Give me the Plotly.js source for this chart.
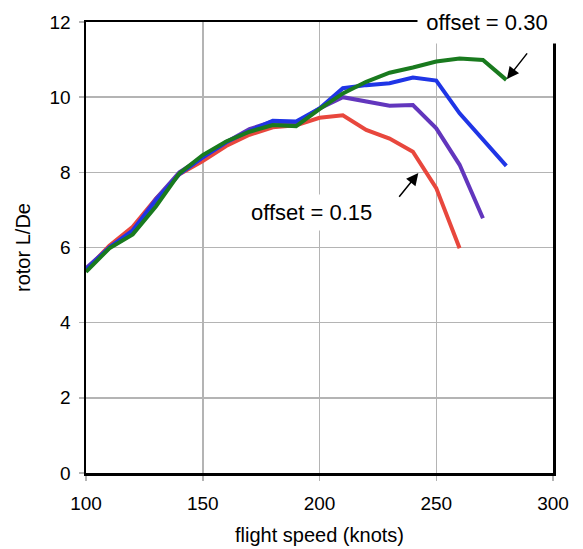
<!DOCTYPE html>
<html><head><meta charset="utf-8">
<script src="https://cdn.plot.ly/plotly-3.0.1.min.js"></script>
<style>html,body{margin:0;padding:0;background:#fff}#chart{width:583px;height:549px}</style>
</head><body><div id="chart"></div>
<script>
const speedA = [100,110,120,130,140,150,160,170,180,190,200,210,220,230,240,250,260];
const offset015 = [5.4,6.05,6.55,7.3,7.95,8.3,8.7,9.0,9.2,9.25,9.45,9.52,9.13,8.9,8.55,7.58,5.98];
const speedB = [100,110,120,130,140,150,160,170,180,190,200,210,220,230,240,250,260,270];
const offsetMid = [5.45,6.0,6.45,7.3,8.0,8.4,8.8,9.15,9.35,9.3,9.7,10.0,9.88,9.77,9.79,9.17,8.2,6.78];
const speedC = [100,110,120,130,140,150,160,170,180,190,200,210,220,230,240,250,260,270,280];
const offsetHigh = [5.4,6.0,6.45,7.25,7.95,8.4,8.8,9.1,9.37,9.35,9.7,10.24,10.32,10.37,10.52,10.44,9.57,8.86,8.17];
const offset030 = [5.35,5.98,6.35,7.1,7.97,8.46,8.82,9.08,9.26,9.23,9.68,10.1,10.41,10.65,10.79,10.95,11.03,10.99,10.46];
const xTicks = [100,150,200,250,300];
const yTicks = [0,2,4,6,8,10,12];

const fam = 'Liberation Sans, Arial, sans-serif';
const tickFont = {family: fam, size: 19, color: '#000'};
const titleFont = {family: fam, size: 20, color: '#000'};
const noteFont = {family: fam, size: 22, color: '#000'};
const traces = [
  {x: speedA, y: offset015, color: '#e8473d'},
  {x: speedB, y: offsetMid, color: '#6236bd'},
  {x: speedC, y: offsetHigh, color: '#1f35e6'},
  {x: speedC, y: offset030, color: '#197a1e'}
].map(t => ({x: t.x, y: t.y, type: 'scatter', mode: 'lines', line: {color: t.color, width: 4}, showlegend: false, hoverinfo: 'skip'}));

const layout = {
  width: 583, height: 549,
  margin: {l: 86, r: 30, t: 22, b: 76},
  paper_bgcolor: '#fff', plot_bgcolor: '#fff',
  font: tickFont,
  showlegend: false,
  xaxis: {range: [100, 300], tickvals: xTicks, ticktext: xTicks.map(String),
    showgrid: true, gridcolor: '#b4b4b4', gridwidth: 1.5,
    showline: true, linecolor: '#000', linewidth: 2.5, mirror: true,
    ticks: 'outside', ticklen: 5, tickcolor: '#b4b4b4', tickwidth: 1.5,
    ticklabelstandoff: 7,
    zeroline: false, tickfont: tickFont,
    title: {text: 'flight speed (knots)', font: titleFont, standoff: 15}},
  yaxis: {range: [0, 12], tickvals: yTicks, ticktext: yTicks.map(String),
    showgrid: true, gridcolor: '#b4b4b4', gridwidth: 1.5,
    showline: true, linecolor: '#000', linewidth: 2.5, mirror: true,
    ticks: 'outside', ticklen: 5, tickcolor: '#b4b4b4', tickwidth: 1.5,
    ticklabelstandoff: 4,
    zeroline: false, tickfont: tickFont,
    title: {text: 'rotor L/De', font: titleFont, standoff: 14}},
  annotations: [
    {x: 280, y: 10.46, xref: 'x', yref: 'y', ax: 22, ay: -28, showarrow: true,
     arrowhead: 2, arrowsize: 1.6, arrowwidth: 1.5, arrowcolor: '#000', standoff: 1, text: ''},
    {x: 242.6, y: 8.0, xref: 'x', yref: 'y', ax: -21, ay: 26, showarrow: true,
     arrowhead: 2, arrowsize: 1.6, arrowwidth: 1.5, arrowcolor: '#000', standoff: 1, text: ''},
    {x: 0.858, y: 1.0, xref: 'paper', yref: 'paper', xanchor: 'center', yanchor: 'middle',
     text: 'offset = 0.30', showarrow: false, bgcolor: '#fff', borderpad: 4,
     width: 130, height: 34, font: noteFont},
    {x: 196.4, y: 6.94, xref: 'x', yref: 'y', xanchor: 'center', yanchor: 'middle',
     text: 'offset = 0.15', showarrow: false, bgcolor: '#fff', borderpad: 5, font: noteFont}
  ]
};
Plotly.newPlot('chart', traces, layout, {displayModeBar: false, staticPlot: true});
</script></body></html>
